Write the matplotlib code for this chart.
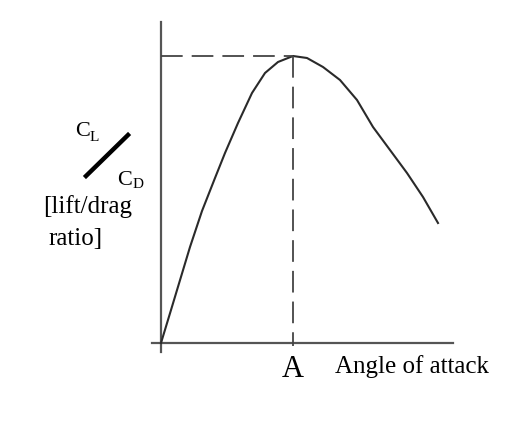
import matplotlib.pyplot as plt

# lift/drag curve (origin at the axes corner)
angle = [0, 10, 29, 41, 54, 64, 77, 91, 104, 117, 132, 146, 162, 179,
         196, 212, 229, 246, 262, 277]
ratio = [0, 33, 96, 132, 165, 190, 220, 250, 270, 281, 287, 285, 276, 263,
         243, 216, 193, 170, 146, 120]
peak_angle = 132
peak_ratio = 287

serif = ['Liberation Serif', 'DejaVu Serif']

fig = plt.figure(figsize=(5.08, 4.26), dpi=100)
ax = fig.add_axes([0, 0, 1, 1])
ax.set_xlim(-161, 508 - 161)
ax.set_ylim(343 - 426, 343)
ax.axis('off')

# axes lines
ax.plot([0, 0], [-9, 321], color='#555555', lw=1.6)
ax.plot([-9, 292], [0, 0], color='#555555', lw=1.6)

# curve
ax.plot(angle, ratio, color='#2a2a2a', lw=1.5, solid_joinstyle='round')

# dashed guides to the peak
ax.plot([0, peak_angle], [peak_ratio, peak_ratio], color='#444444', lw=1.3,
        dashes=(12, 5))
ax.plot([peak_angle, peak_angle], [peak_ratio, -3], color='#444444', lw=1.3,
        dashes=(12, 5))

# labels
ax.text(peak_angle, -34, 'A', family=serif, fontsize=22, ha='center', va='baseline')
ax.text(174, -30, 'Angle of attack', family=serif, fontsize=18, ha='left', va='baseline')

ax.text(-86, 207, 'C', family=serif, fontsize=16, ha='left', va='baseline')
ax.text(-71, 202, 'L', family=serif, fontsize=11, ha='left', va='baseline')
ax.plot([-75, -33], [167, 208], color='black', lw=3.2)
ax.text(-44, 158, 'C', family=serif, fontsize=16, ha='left', va='baseline')
ax.text(-28, 155, 'D', family=serif, fontsize=11, ha='left', va='baseline')
ax.text(-118, 130, '[lift/drag', family=serif, fontsize=18, ha='left', va='baseline')
ax.text(-113, 98, 'ratio]', family=serif, fontsize=18, ha='left', va='baseline')

fig.savefig('out.png', dpi=100)
